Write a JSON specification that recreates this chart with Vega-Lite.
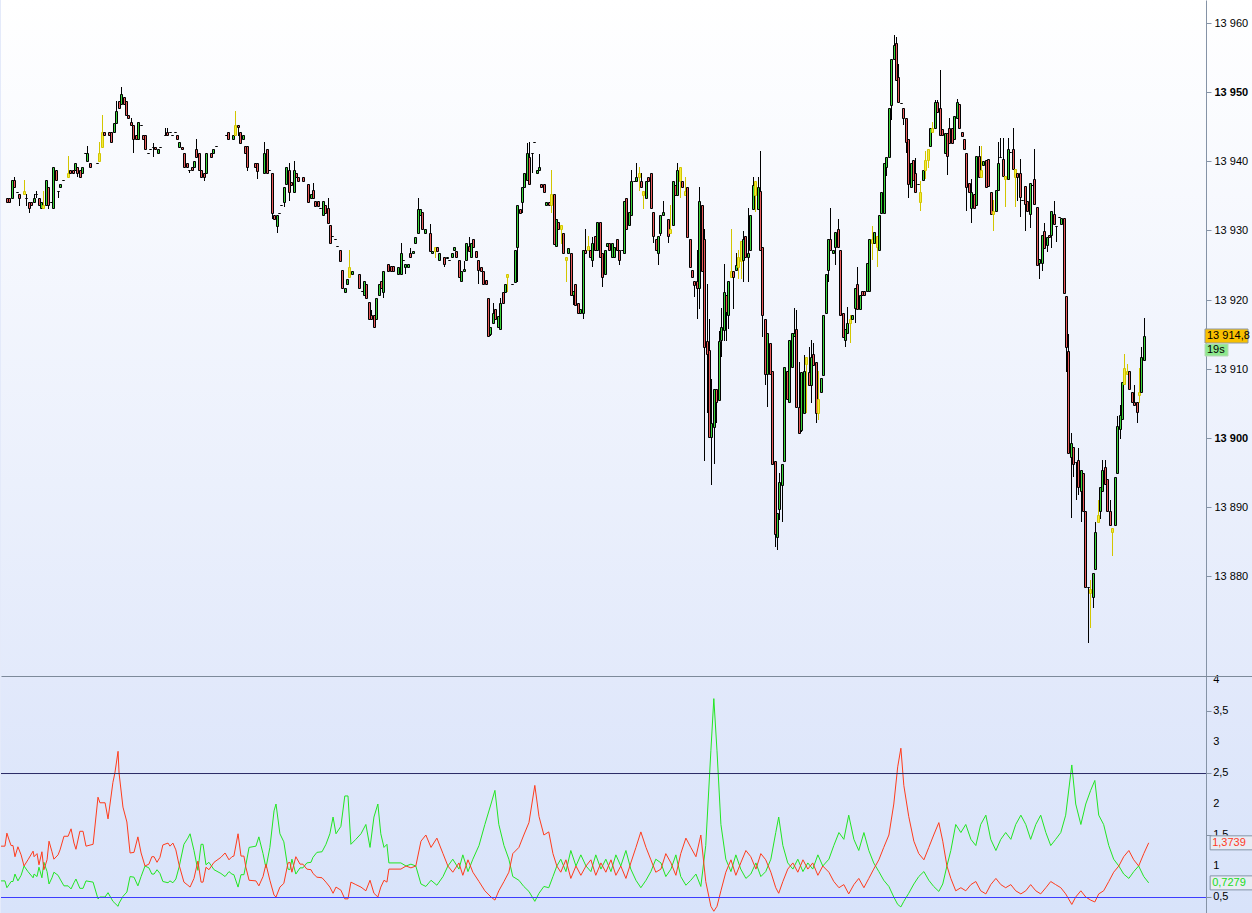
{
"$schema":"https://vega.github.io/schema/vega-lite/v6.json",
"padding":0,
"spacing":0,
"bounds":"flush",
"background":"#e4eafa",
"config":{"view":{"stroke":null},"axis":{"labelFont":"Liberation Sans","labelFontSize":11,"labelColor":"#000000","grid":false,"title":null,"labelOverlap":false}},
"resolve":{"scale":{"x":"independent","y":"independent"}},
"datasets":{
"k":[
{"i":0,"o":13934.7,"c":13934.1},{"i":1,"o":13934.7,"c":13934.1},{"i":2,"o":13934.7,"c":13937.3},{"i":3,"o":13937.3,"c":13936.3,"h":13937.7,"l":13936.3},{"i":4,"o":13935.6,"c":13935.6},{"i":5,"o":13935.3,"c":13934.7,"h":13935.3,"l":13933.5},{"i":7,"o":13935.3,"c":13935.7,"h":13937.3,"l":13935.3,"s":1},{"i":8,"o":13934.7,"c":13934.7,"h":13935.3,"l":13933.5},{"i":9,"o":13934.1,"c":13933.2,"h":13934.1,"l":13932.5},{"i":10,"o":13934.1,"c":13933.7},{"i":11,"o":13934.1,"c":13934.7,"h":13935.3,"l":13934.1},{"i":12,"o":13935.3,"c":13935.3,"h":13935.7,"l":13934.7},{"i":13,"o":13934.7,"c":13933.7},{"i":14,"o":13933.2,"c":13934.1},{"i":15,"o":13933.7,"c":13933.2,"h":13935.7,"l":13933.2,"s":1},{"i":16,"o":13933.7,"c":13937.3},{"i":17,"o":13936.3,"c":13933.7,"h":13936.3,"l":13933.1},{"i":18,"o":13934.1,"c":13934.1},{"i":19,"o":13933.2,"c":13939.2},{"i":20,"o":13938.7,"c":13937.3},{"i":21,"o":13935.7,"c":13935.7,"h":13935.7,"l":13934.7},{"i":22,"o":13936.3,"c":13936.7},{"i":23,"o":13937.3,"c":13937.3},{"i":25,"o":13937.7,"c":13938.3,"h":13940.8,"l":13937.7,"s":1},{"i":26,"o":13938.7,"c":13938.3},{"i":27,"o":13938.7,"c":13938.3},{"i":28,"o":13938.7,"c":13939.7},{"i":29,"o":13939.2,"c":13938.3,"h":13939.2,"l":13937.7},{"i":30,"o":13938.7,"c":13937.7},{"i":31,"o":13938.3,"c":13939.2},{"i":32,"o":13941.2,"c":13941.2},{"i":33,"o":13940.0,"c":13941.2,"h":13942.2,"l":13940.0},{"i":34,"o":13939.7,"c":13939.2},{"i":37,"o":13939.7,"c":13939.7},{"i":38,"o":13940.0,"c":13941.2,"h":13942.8,"l":13940.0,"s":1},{"i":39,"o":13942.1,"c":13944.2,"h":13946.7,"l":13942.1,"s":1},{"i":40,"o":13944.2,"c":13943.8},{"i":42,"o":13944.2,"c":13943.8},{"i":43,"o":13944.2,"c":13942.8},{"i":44,"o":13944.2,"c":13945.5},{"i":45,"o":13945.5,"c":13947.3,"h":13948.7,"l":13945.5},{"i":46,"o":13948.7,"c":13947.7},{"i":47,"o":13948.3,"c":13949.7,"h":13950.7,"l":13948.3},{"i":48,"o":13949.3,"c":13948.3},{"i":49,"o":13948.7,"c":13946.7},{"i":50,"o":13946.7,"c":13946.2},{"i":51,"o":13945.7,"c":13945.2,"h":13946.2,"l":13945.2},{"i":52,"o":13945.2,"c":13943.2,"h":13945.2,"l":13941.2},{"i":53,"o":13943.8,"c":13943.2},{"i":54,"o":13943.2,"c":13945.7},{"i":55,"o":13945.2,"c":13945.2},{"i":56,"o":13943.8,"c":13943.2},{"i":57,"o":13943.8,"c":13941.8},{"i":58,"o":13941.2,"c":13941.2},{"i":59,"o":13941.8,"c":13941.8},{"i":60,"o":13942.1,"c":13942.1,"h":13942.6,"l":13940.6},{"i":61,"o":13942.1,"c":13941.8},{"i":62,"o":13941.2,"c":13941.8},{"i":63,"o":13942.1,"c":13942.1},{"i":65,"o":13943.8,"c":13943.8,"h":13944.8,"l":13943.8},{"i":66,"o":13944.2,"c":13943.8,"h":13944.8,"l":13943.8},{"i":67,"o":13944.2,"c":13944.2},{"i":68,"o":13943.8,"c":13943.8},{"i":69,"o":13944.2,"c":13944.2},{"i":70,"o":13943.8,"c":13943.2},{"i":71,"o":13942.1,"c":13942.8},{"i":72,"o":13942.1,"c":13941.8},{"i":73,"o":13941.2,"c":13939.2},{"i":74,"o":13939.7,"c":13939.2},{"i":75,"o":13938.7,"c":13938.7,"h":13938.7,"l":13938.3},{"i":76,"o":13939.2,"c":13938.7},{"i":77,"o":13939.2,"c":13940.0},{"i":78,"o":13941.8,"c":13940.6,"h":13943.2,"l":13940.6},{"i":79,"o":13941.2,"c":13938.7},{"i":80,"o":13938.7,"c":13937.7},
{"i":81,"o":13938.3,"c":13937.7,"h":13938.3,"l":13937.1},{"i":82,"o":13938.3,"c":13941.2},{"i":84,"o":13941.2,"c":13940.6},{"i":85,"o":13941.2,"c":13941.8},{"i":86,"o":13942.2,"c":13942.2},{"i":90,"o":13943.8,"c":13943.8},{"i":91,"o":13944.2,"c":13943.2},{"i":93,"o":13943.2,"c":13943.8},{"i":94,"o":13943.8,"c":13945.2,"h":13947.3,"l":13943.8,"s":1},{"i":95,"o":13945.2,"c":13944.9,"h":13945.2,"l":13943.6},{"i":96,"o":13944.2,"c":13942.6},{"i":97,"o":13943.2,"c":13943.8},{"i":98,"o":13942.2,"c":13941.2},{"i":99,"o":13942.2,"c":13939.2,"h":13942.2,"l":13938.6},{"i":102,"o":13939.7,"c":13939.2},{"i":103,"o":13939.7,"c":13938.6,"h":13939.7,"l":13937.5},{"i":106,"o":13938.3,"c":13941.2,"h":13942.8,"l":13938.3},{"i":107,"o":13941.8,"c":13938.3},{"i":108,"o":13938.7,"c":13938.7},{"i":109,"o":13938.3,"c":13932.5,"h":13938.3,"l":13931.7},{"i":110,"o":13932.2,"c":13931.7},{"i":111,"o":13930.6,"c":13932.2,"h":13932.2,"l":13929.6},{"i":112,"o":13932.5,"c":13932.5},{"i":113,"o":13933.7,"c":13933.7},{"i":114,"o":13934.1,"c":13936.3,"h":13936.3,"l":13933.4},{"i":115,"o":13936.7,"c":13939.2},{"i":116,"o":13938.7,"c":13935.6,"h":13939.7,"l":13934.2},{"i":117,"o":13937.0,"c":13936.6},{"i":118,"o":13935.6,"c":13938.7,"h":13940.0,"l":13935.6},{"i":119,"o":13938.3,"c":13937.7},{"i":120,"o":13937.7,"c":13937.1},{"i":122,"o":13937.7,"c":13937.1},{"i":124,"o":13936.7,"c":13934.1},{"i":125,"o":13934.7,"c":13935.3},{"i":126,"o":13935.8,"c":13934.7,"h":13936.9,"l":13934.7},{"i":127,"o":13934.3,"c":13933.5},{"i":128,"o":13934.3,"c":13933.5},{"i":129,"o":13933.2,"c":13933.2},{"i":130,"o":13932.2,"c":13934.3},{"i":131,"o":13933.7,"c":13932.5},{"i":132,"o":13933.2,"c":13931.1,"h":13934.7,"l":13931.1},{"i":133,"o":13930.8,"c":13928.2},{"i":134,"o":13929.2,"c":13929.2},{"i":135,"o":13928.8,"c":13928.8},{"i":136,"o":13927.8,"c":13927.8},{"i":137,"o":13927.2,"c":13925.6},{"i":138,"o":13924.3,"c":13921.7},{"i":139,"o":13921.1,"c":13921.7},{"i":140,"o":13922.3,"c":13923.0},{"i":141,"o":13923.3,"c":13924.7,"h":13927.2,"l":13923.3,"s":1},{"i":142,"o":13923.7,"c":13924.1},{"i":145,"o":13923.7,"c":13921.7},{"i":146,"o":13921.2,"c":13921.2},{"i":147,"o":13920.7,"c":13922.7},{"i":148,"o":13922.3,"c":13920.2},{"i":149,"o":13919.7,"c":13917.2},{"i":150,"o":13917.8,"c":13917.2,"h":13918.5,"l":13917.2},{"i":151,"o":13917.8,"c":13916.0},{"i":152,"o":13917.2,"c":13920.2},{"i":153,"o":13920.7,"c":13922.3},{"i":154,"o":13922.7,"c":13921.7},{"i":155,"o":13921.1,"c":13924.1,"h":13924.1,"l":13920.2},{"i":157,"o":13925.2,"c":13924.1},{"i":158,"o":13924.8,"c":13924.1},{"i":159,"o":13924.8,"c":13924.1},
{"i":161,"o":13923.7,"c":13924.7},{"i":162,"o":13923.7,"c":13926.7,"h":13928.2,"l":13923.7},{"i":163,"o":13925.7,"c":13925.7},{"i":164,"o":13924.7,"c":13925.2,"h":13925.2,"l":13923.7},{"i":165,"o":13924.7,"c":13925.2},{"i":166,"o":13926.7,"c":13926.2,"h":13927.5,"l":13926.2},{"i":167,"o":13926.7,"c":13927.0},{"i":168,"o":13928.2,"c":13929.0},{"i":169,"o":13929.6,"c":13933.1,"h":13934.7,"l":13929.6},{"i":170,"o":13932.2,"c":13933.1},{"i":171,"o":13932.7,"c":13930.2},{"i":172,"o":13929.6,"c":13930.2},{"i":174,"o":13929.6,"c":13927.0,"h":13930.9,"l":13927.0},{"i":175,"o":13926.7,"c":13927.0},{"i":176,"o":13927.0,"c":13927.6,"h":13927.6,"l":13926.0,"s":1},{"i":177,"o":13927.6,"c":13927.0},{"i":178,"o":13925.7,"c":13926.7},{"i":180,"o":13926.2,"c":13925.2,"h":13926.2,"l":13924.7},{"i":181,"o":13926.0,"c":13926.2},{"i":182,"o":13925.7,"c":13925.7},{"i":183,"o":13926.2,"c":13926.7},{"i":184,"o":13927.2,"c":13927.6},{"i":185,"o":13927.0,"c":13926.2},{"i":186,"o":13925.7,"c":13923.3},{"i":187,"o":13922.7,"c":13924.1},{"i":188,"o":13924.1,"c":13924.4,"h":13925.6,"l":13924.1},{"i":189,"o":13925.7,"c":13928.2},{"i":190,"o":13927.8,"c":13927.0,"h":13929.0,"l":13927.0},{"i":191,"o":13926.2,"c":13928.2},{"i":192,"o":13928.8,"c":13927.6},{"i":193,"o":13927.0,"c":13926.2},{"i":194,"o":13925.7,"c":13924.3,"h":13925.7,"l":13922.3},{"i":195,"o":13924.7,"c":13924.1},{"i":196,"o":13924.1,"c":13922.3},{"i":197,"o":13922.8,"c":13922.3},{"i":198,"o":13920.2,"c":13914.7},{"i":199,"o":13915.0,"c":13916.0,"h":13916.0,"l":13914.7},{"i":200,"o":13916.6,"c":13918.1,"h":13919.5,"l":13916.6},{"i":201,"o":13918.6,"c":13917.2},{"i":202,"o":13916.0,"c":13917.6},{"i":203,"o":13915.8,"c":13919.5,"h":13920.2,"l":13915.8},{"i":204,"o":13921.1,"c":13919.5},{"i":205,"o":13921.1,"c":13922.3},{"i":206,"o":13923.3,"c":13923.7,"h":13923.7,"l":13921.1,"s":1},{"i":208,"o":13922.3,"c":13922.3},{"i":209,"o":13922.6,"c":13927.2},{"i":210,"o":13927.6,"c":13933.7,"h":13933.7,"l":13922.6},{"i":211,"o":13933.1,"c":13932.5},{"i":212,"o":13934.1,"c":13936.3,"h":13936.3,"l":13932.5},{"i":213,"o":13936.3,"c":13938.3},{"i":214,"o":13937.3,"c":13941.2,"h":13942.6,"l":13937.3},{"i":215,"o":13940.6,"c":13936.7,"h":13942.8,"l":13936.7},{"i":216,"o":13941.2,"c":13941.2,"h":13941.2,"l":13938.3},{"i":217,"o":13942.8,"c":13942.8},{"i":218,"o":13938.3,"c":13938.7},{"i":219,"o":13938.7,"c":13939.2,"h":13941.0,"l":13938.7},{"i":220,"o":13936.7,"c":13936.3},{"i":221,"o":13936.7,"c":13935.6},{"i":222,"o":13933.7,"c":13934.1},{"i":223,"o":13934.1,"c":13933.7},{"i":224,"o":13935.3,"c":13933.7,"h":13938.7,"l":13932.5,"s":1},{"i":225,"o":13935.3,"c":13928.0},{"i":226,"o":13927.8,"c":13931.7},{"i":227,"o":13931.2,"c":13930.2},{"i":228,"o":13930.8,"c":13930.2,"h":13930.8,"l":13928.0,"s":1},{"i":229,"o":13929.6,"c":13926.7},{"i":230,"o":13926.2,"c":13925.7,"h":13926.2,"l":13922.6,"s":1},{"i":231,"o":13926.7,"c":13927.5},{"i":232,"o":13926.7,"c":13920.7},{"i":233,"o":13920.7,"c":13921.2,"h":13921.2,"l":13919.2},{"i":234,"o":13922.3,"c":13919.2},{"i":235,"o":13919.5,"c":13918.1},{"i":236,"o":13918.1,"c":13918.6},{"i":237,"o":13918.1,"c":13927.2,"h":13927.2,"l":13917.2},{"i":238,"o":13927.2,"c":13926.7,"h":13930.2,"l":13926.7},{"i":239,"o":13927.2,"c":13927.8,"h":13929.2,"l":13927.2,"s":1},{"i":240,"o":13927.2,"c":13926.2},{"i":241,"o":13925.7,"c":13928.2,"h":13929.0,"l":13924.7},{"i":242,"o":13929.2,"c":13927.2},{"i":243,"o":13927.2,"c":13931.2},{"i":244,"o":13931.2,"c":13926.2},{"i":245,"o":13926.7,"c":13923.3,"h":13926.7,"l":13921.8},{"i":246,"o":13923.7,"c":13927.2},{"i":247,"o":13927.8,"c":13928.2},{"i":248,"o":13928.2,"c":13927.2},{"i":249,"o":13926.2,"c":13928.2},{"i":250,"o":13926.2,"c":13927.6},{"i":251,"o":13928.8,"c":13927.2},{"i":252,"o":13927.2,"c":13925.7,"h":13927.2,"l":13925.0},{"i":253,"o":13927.2,"c":13927.2},{"i":254,"o":13926.7,"c":13934.3},{"i":255,"o":13934.7,"c":13930.2},{"i":256,"o":13930.8,"c":13932.7},{"i":257,"o":13932.2,"c":13937.1,"h":13938.7,"l":13932.2},{"i":258,"o":13937.1,"c":13937.1},{"i":259,"o":13937.1,"c":13937.7,"h":13939.7,"l":13937.1},{"i":260,"o":13937.7,"c":13938.3,"h":13939.2,"l":13935.7,"s":1},{"i":261,"o":13937.1,"c":13936.3,"h":13938.3,"l":13936.3},{"i":262,"o":13935.7,"c":13935.1,"h":13935.7,"l":13933.1,"s":1},{"i":263,"o":13934.7,"c":13937.1},{"i":264,"o":13937.7,"c":13937.1},{"i":265,"o":13938.3,"c":13933.2},{"i":266,"o":13932.7,"c":13929.2,"h":13932.7,"l":13928.2},{"i":267,"o":13928.8,"c":13927.2},{"i":268,"o":13926.7,"c":13929.2,"h":13929.2,"l":13925.0},{"i":269,"o":13929.6,"c":13932.2,"h":13932.2,"l":13929.2},{"i":270,"o":13932.2,"c":13932.7,"h":13934.3,"l":13932.2},{"i":272,"o":13931.7,"c":13929.2,"h":13931.7,"l":13928.2},{"i":273,"o":13929.6,"c":13930.2,"h":13933.7,"l":13929.6,"s":1},{"i":274,"o":13930.8,"c":13937.1},{"i":275,"o":13936.6,"c":13935.1},{"i":276,"o":13935.1,"c":13938.7,"h":13939.7,"l":13935.1},{"i":277,"o":13937.1,"c":13939.2,"h":13939.2,"l":13934.7,"s":1},{"i":278,"o":13937.1,"c":13936.3},{"i":279,"o":13935.7,"c":13935.1,"h":13937.7,"l":13935.1,"s":1},{"i":280,"o":13936.3,"c":13929.0},{"i":281,"o":13928.8,"c":13924.7},{"i":282,"o":13924.3,"c":13923.3},{"i":283,"o":13922.7,"c":13922.1,"h":13922.7,"l":13920.4},{"i":284,"o":13922.7,"c":13921.7,"h":13927.2,"l":13917.2},{"i":285,"o":13921.7,"c":13934.3,"h":13936.3,"l":13918.6},{"i":286,"o":13933.7,"c":13924.1},{"i":287,"o":13928.8,"c":13913.2,"h":13930.2,"l":13896.7},{"i":288,"o":13914.0,"c":13912.1,"h":13922.3,"l":13903.6},{"i":289,"o":13912.7,"c":13900.2,"h":13917.2,"l":13900.2},{"i":290,"o":13900.2,"c":13902.2,"h":13908.5,"l":13893.2},{"i":291,"o":13901.6,"c":13907.1,"h":13907.1,"l":13896.3},{"i":292,"o":13907.1,"c":13905.2,"h":13907.1,"l":13902.2},{"i":293,"o":13905.5,"c":13914.0,"h":13915.5,"l":13905.5},{"i":294,"o":13914.2,"c":13916.0,"h":13918.8,"l":13911.7},{"i":295,"o":13915.6,"c":13921.1,"h":13925.2,"l":13914.0},{"i":296,"o":13920.7,"c":13918.2,"h":13920.7,"l":13914.0},{"i":297,"o":13917.8,"c":13922.7,"h":13922.7,"l":13915.8},{"i":298,"o":13923.3,"c":13924.1,"h":13930.2,"l":13923.3,"s":1},{"i":299,"o":13924.1,"c":13923.3,"h":13924.1,"l":13918.6},{"i":300,"o":13924.3,"c":13925.0,"h":13926.8,"l":13924.3},{"i":301,"o":13924.7,"c":13926.2,"h":13927.2,"l":13923.0,"s":1},{"i":302,"o":13925.6,"c":13928.5,"h":13928.5,"l":13923.0,"s":1},{"i":303,"o":13925.7,"c":13928.8,"h":13929.9,"l":13922.6},{"i":304,"o":13929.2,"c":13926.2},{"i":305,"o":13926.2,"c":13926.7,"h":13933.2,"l":13922.6},{"i":306,"o":13927.2,"c":13932.2},{"i":307,"o":13933.1,"c":13936.6,"h":13937.7,"l":13933.1},{"i":308,"o":13935.1,"c":13937.1,"h":13937.1,"l":13932.7,"s":1},{"i":309,"o":13933.1,"c":13936.3,"h":13937.7,"l":13933.1},{"i":310,"o":13935.7,"c":13927.2,"h":13941.5,"l":13927.2},{"i":311,"o":13927.6,"c":13917.8,"h":13927.6,"l":13914.6},{"i":312,"o":13917.2,"c":13909.3,"h":13917.2,"l":13907.7},{"i":313,"o":13909.3,"c":13915.2,"h":13915.2,"l":13904.5},{"i":314,"o":13913.7,"c":13909.3},{"i":315,"o":13909.7,"c":13896.2},{"i":316,"o":13896.7,"c":13886.1,"h":13896.7,"l":13884.3},{"i":317,"o":13885.7,"c":13889.2,"h":13889.2,"l":13883.8},{"i":318,"o":13889.7,"c":13893.6,"h":13895.0,"l":13888.2},{"i":319,"o":13893.2,"c":13896.2,"h":13896.2,"l":13887.9},{"i":320,"o":13896.7,"c":13910.3},{"i":321,"o":13909.7,"c":13905.6},{"i":322,"o":13905.2,"c":13914.2},{"i":323,"o":13910.3,"c":13915.2},{"i":324,"o":13914.7,"c":13915.2,"h":13918.8,"l":13914.7},{"i":325,"o":13915.8,"c":13904.5,"h":13918.5,"l":13904.5},{"i":326,"o":13904.5,"c":13900.7,"h":13911.0,"l":13900.7},{"i":327,"o":13901.2,"c":13909.5,"h":13909.5,"l":13900.9},{"i":328,"o":13903.6,"c":13909.7,"h":13912.0,"l":13903.6},{"i":329,"o":13910.7,"c":13911.7,"h":13911.7,"l":13903.6,"s":1},{"i":330,"o":13909.5,"c":13907.7,"h":13913.2,"l":13907.7},{"i":331,"o":13907.7,"c":13911.7,"h":13914.2,"l":13905.0},{"i":332,"o":13912.1,"c":13910.6,"h":13913.7,"l":13910.6},{"i":333,"o":13911.0,"c":13903.6,"h":13911.0,"l":13902.2},{"i":334,"o":13905.6,"c":13903.6,"h":13909.7,"l":13902.6,"s":1},{"i":335,"o":13906.7,"c":13908.7},{"i":336,"o":13909.1,"c":13917.8},{"i":337,"o":13918.1,"c":13923.7},{"i":338,"o":13924.3,"c":13928.8,"h":13928.8,"l":13922.6},{"i":339,"o":13928.8,"c":13927.2,"h":13933.2,"l":13927.2},{"i":340,"o":13926.7,"c":13927.2},{"i":341,"o":13927.6,"c":13929.8,"h":13929.8,"l":13925.0},{"i":342,"o":13930.2,"c":13927.6,"h":13931.7,"l":13927.6},{"i":343,"o":13927.2,"c":13917.8},{"i":344,"o":13918.1,"c":13914.6},{"i":345,"o":13914.2,"c":13915.8,"h":13915.8,"l":13913.2},{"i":346,"o":13915.2,"c":13916.6,"h":13919.0,"l":13915.2},{"i":347,"o":13916.6,"c":13917.2,"h":13917.8,"l":13913.7,"s":1},{"i":348,"o":13917.2,"c":13917.8},{"i":349,"o":13918.8,"c":13921.7,"h":13921.7,"l":13916.6},{"i":350,"o":13922.3,"c":13918.6,"h":13924.7,"l":13918.6},{"i":351,"o":13918.6,"c":13920.7},{"i":352,"o":13921.2,"c":13920.7},{"i":353,"o":13921.2,"c":13920.7},{"i":354,"o":13921.2,"c":13925.3},{"i":355,"o":13921.2,"c":13928.8},{"i":356,"o":13928.2,"c":13928.8,"h":13930.6,"l":13925.7,"s":1},{"i":357,"o":13928.2,"c":13929.8},{"i":358,"o":13929.2,"c":13927.6,"h":13929.2,"l":13924.7,"s":1},{"i":359,"o":13927.2,"c":13932.2},{"i":360,"o":13932.5,"c":13935.6},{"i":361,"o":13932.5,"c":13939.7},{"i":362,"o":13939.2,"c":13940.6,"h":13940.6,"l":13937.9},{"i":363,"o":13940.6,"c":13947.7},{"i":364,"o":13948.1,"c":13954.8,"h":13954.8,"l":13946.0},{"i":365,"o":13954.8,"c":13956.8,"h":13958.2,"l":13954.8},{"i":366,"o":13957.1,"c":13951.7,"h":13958.0,"l":13951.7},{"i":367,"o":13952.2,"c":13948.6,"h":13954.0,"l":13948.6},{"i":368,"o":13948.4,"c":13948.4},{"i":369,"o":13947.7,"c":13946.2,"h":13947.7,"l":13945.3},{"i":370,"o":13946.2,"c":13942.8,"h":13946.2,"l":13941.2},{"i":371,"o":13943.2,"c":13936.7,"h":13943.2,"l":13934.7},{"i":372,"o":13936.3,"c":13939.7},{"i":373,"o":13940.2,"c":13937.3},{"i":374,"o":13938.3,"c":13935.6,"h":13940.4,"l":13935.6},{"i":375,"o":13936.7,"c":13936.7},{"i":376,"o":13935.6,"c":13934.1,"h":13937.1,"l":13932.8,"s":1},{"i":377,"o":13937.3,"c":13938.7},{"i":378,"o":13938.7,"c":13940.2,"h":13941.5,"l":13937.5,"s":1},{"i":379,"o":13940.2,"c":13941.8,"h":13941.8,"l":13939.0,"s":1},{"i":380,"o":13942.2,"c":13944.8},{"i":381,"o":13944.2,"c":13944.8,"h":13945.7,"l":13944.2,"s":1},{"i":382,"o":13944.8,"c":13948.6,"h":13948.8,"l":13944.8},{"i":383,"o":13948.6,"c":13947.1,"h":13948.8,"l":13947.1},{"i":384,"o":13947.7,"c":13943.8,"h":13953.2,"l":13943.8},{"i":385,"o":13944.7,"c":13943.8},{"i":386,"o":13941.2,"c":13944.1},{"i":387,"o":13944.1,"c":13940.8,"h":13944.1,"l":13938.0},{"i":388,"o":13944.8,"c":13942.6,"h":13946.3,"l":13942.6},{"i":389,"o":13944.8,"c":13942.6},{"i":390,"o":13943.2,"c":13946.5},{"i":391,"o":13946.2,"c":13948.6,"h":13949.0,"l":13946.2},{"i":392,"o":13948.3,"c":13944.8},{"i":393,"o":13944.2,"c":13943.6},{"i":394,"o":13943.2,"c":13941.8},{"i":395,"o":13941.2,"c":13936.3,"h":13941.2,"l":13932.8},{"i":396,"o":13936.9,"c":13935.6},{"i":397,"o":13933.2,"c":13935.6,"h":13937.5,"l":13931.1},{"i":398,"o":13935.3,"c":13933.2},{"i":399,"o":13933.7,"c":13940.8},{"i":400,"o":13940.8,"c":13937.7,"h":13942.2,"l":13937.7},{"i":401,"o":13938.7,"c":13937.7,"h":13942.2,"l":13937.7,"s":1},{"i":402,"o":13939.4,"c":13940.0},{"i":403,"o":13940.2,"c":13936.3},{"i":404,"o":13940.3,"c":13936.4},{"i":405,"o":13935.6,"c":13932.4},{"i":406,"o":13932.8,"c":13932.4,"h":13934.4,"l":13929.9,"s":1},{"i":407,"o":13932.8,"c":13935.8},{"i":408,"o":13935.8,"c":13939.7,"h":13942.8,"l":13935.8},{"i":409,"o":13940.6,"c":13940.6,"h":13943.4,"l":13940.6},{"i":410,"o":13940.3,"c":13937.9,"h":13943.4,"l":13937.9},{"i":411,"o":13937.9,"c":13937.5,"h":13937.9,"l":13933.4,"s":1},{"i":412,"o":13937.4,"c":13941.8,"h":13943.4,"l":13937.4},{"i":413,"o":13941.3,"c":13941.3},{"i":414,"o":13941.8,"c":13938.9,"h":13944.8,"l":13938.9},{"i":415,"o":13938.9,"c":13937.7,"h":13938.9,"l":13933.4,"s":1},{"i":416,"o":13938.3,"c":13937.7,"h":13938.3,"l":13934.2},{"i":417,"o":13938.3,"c":13934.8,"h":13940.3,"l":13931.9},{"i":418,"o":13934.4,"c":13934.4},{"i":419,"o":13936.4,"c":13933.8,"h":13936.4,"l":13929.9},{"i":420,"o":13934.3,"c":13932.8},{"i":421,"o":13932.4,"c":13936.9,"h":13936.9,"l":13930.4},{"i":422,"o":13936.6,"c":13936.6},{"i":423,"o":13937.4,"c":13933.8,"h":13941.8,"l":13933.8},{"i":424,"o":13933.4,"c":13925.0},{"i":425,"o":13925.3,"c":13925.9,"h":13925.9,"l":13923.0},{"i":426,"o":13925.3,"c":13929.3,"h":13929.3,"l":13924.2},{"i":427,"o":13929.9,"c":13927.5,"h":13931.0,"l":13927.5},{"i":428,"o":13927.9,"c":13929.0,"h":13929.0,"l":13926.9},{"i":429,"o":13929.3,"c":13929.0},{"i":430,"o":13929.3,"c":13932.8,"h":13932.8,"l":13927.4},{"i":431,"o":13932.4,"c":13930.9,"h":13934.3,"l":13930.9},{"i":432,"o":13930.6,"c":13930.6,"h":13930.6,"l":13928.3},{"i":433,"o":13931.9,"c":13931.9},{"i":434,"o":13930.9,"c":13931.8},{"i":435,"o":13931.8,"c":13920.9},{"i":436,"o":13920.5,"c":13913.2,"h":13920.5,"l":13909.5},{"i":437,"o":13912.6,"c":13897.8,"h":13915.0,"l":13897.8},{"i":438,"o":13897.2,"c":13899.3,"h":13900.7,"l":13888.4},{"i":439,"o":13898.7,"c":13896.3,"h":13898.7,"l":13894.3},{"i":440,"o":13896.6,"c":13896.6,"h":13896.6,"l":13891.0},{"i":441,"o":13896.8,"c":13892.9,"h":13898.5,"l":13891.7},{"i":442,"o":13892.3,"c":13895.4,"h":13895.4,"l":13887.9},{"i":443,"o":13894.9,"c":13889.5},{"i":444,"o":13889.5,"c":13878.5},{"i":445,"o":13878.5,"c":13878.5,"h":13878.5,"l":13870.3},{"i":446,"o":13878.2,"c":13877.6,"h":13879.5,"l":13872.6,"s":1},{"i":447,"o":13877.0,"c":13880.5,"h":13880.5,"l":13875.5},{"i":448,"o":13881.1,"c":13886.4,"h":13887.9,"l":13881.1},{"i":449,"o":13888.9,"c":13887.9,"h":13891.1,"l":13887.9,"s":1},{"i":450,"o":13889.5,"c":13892.9,"h":13892.9,"l":13888.3},{"i":451,"o":13892.3,"c":13895.4,"h":13896.8,"l":13892.3},{"i":452,"o":13895.8,"c":13893.4,"h":13896.8,"l":13893.4},{"i":453,"o":13894.0,"c":13889.5},{"i":454,"o":13889.5,"c":13887.4,"h":13891.1,"l":13887.4},{"i":455,"o":13887.0,"c":13886.4,"h":13887.0,"l":13883.0,"s":1},{"i":456,"o":13887.4,"c":13894.4},{"i":457,"o":13894.9,"c":13901.7,"h":13903.2,"l":13894.9},{"i":458,"o":13901.3,"c":13903.3,"h":13904.8,"l":13899.8},{"i":459,"o":13902.8,"c":13908.1},{"i":460,"o":13907.8,"c":13910.1,"h":13912.1,"l":13907.8,"s":1},{"i":461,"o":13909.7,"c":13909.3,"h":13910.7,"l":13909.3,"s":1},{"i":462,"o":13909.7,"c":13907.1},{"i":463,"o":13906.7,"c":13905.2},{"i":464,"o":13905.2,"c":13904.8,"h":13907.6,"l":13904.8},{"i":465,"o":13905.2,"c":13903.8,"h":13905.2,"l":13902.1},{"i":466,"o":13906.2,"c":13906.7,"h":13910.1,"l":13905.1,"s":1},{"i":467,"o":13906.7,"c":13911.7,"h":13913.2,"l":13906.7},{"i":468,"o":13911.2,"c":13914.8,"h":13917.4,"l":13911.2}
],
"ind":[
{"i":-0.4,"r":1.32,"g":0.76},{"i":1.2,"r":1.32,"g":0.76},{"i":2.0,"r":1.53,"g":0.65},{"i":2.9,"r":1.42,"g":0.7},{"i":3.7,"r":1.33,"g":0.75},{"i":4.5,"r":1.33,"g":0.75},{"i":5.3,"r":1.15,"g":0.87},{"i":6.5,"r":1.31,"g":0.76},{"i":7.8,"r":1.18,"g":0.85},{"i":9.0,"r":1.0,"g":1.0},{"i":10.6,"r":1.1,"g":0.91},{"i":12.7,"r":1.24,"g":0.81},{"i":13.1,"r":1.15,"g":0.87},{"i":14.3,"r":1.2,"g":0.83},{"i":15.1,"r":1.02,"g":0.98},{"i":16.3,"r":1.23,"g":0.81},{"i":17.1,"r":0.94,"g":1.06},{"i":18.4,"r":1.1,"g":0.91},{"i":19.2,"r":1.4,"g":0.71},{"i":20.4,"r":1.23,"g":0.81},{"i":21.2,"r":1.11,"g":0.9},{"i":22.9,"r":1.18,"g":0.85},{"i":23.7,"r":1.26,"g":0.79},{"i":25.3,"r":1.48,"g":0.68},{"i":27.0,"r":1.48,"g":0.68},{"i":28.2,"r":1.6,"g":0.63},{"i":29.4,"r":1.37,"g":0.73},{"i":30.2,"r":1.27,"g":0.79},{"i":31.8,"r":1.56,"g":0.64},{"i":33.1,"r":1.56,"g":0.64},{"i":34.3,"r":1.32,"g":0.76},{"i":37.2,"r":1.35,"g":0.74},{"i":39.2,"r":2.11,"g":0.47},{"i":40.0,"r":2.02,"g":0.5},{"i":42.1,"r":2.02,"g":0.5},{"i":43.3,"r":1.76,"g":0.57},{"i":45.3,"r":2.35,"g":0.43},{"i":46.1,"r":2.5,"g":0.4},{"i":47.4,"r":2.85,"g":0.35},{"i":47.8,"r":2.5,"g":0.4},{"i":49.4,"r":1.95,"g":0.51},{"i":51.0,"r":1.71,"g":0.58},{"i":52.3,"r":1.21,"g":0.83},{"i":53.9,"r":1.22,"g":0.82},{"i":55.5,"r":1.47,"g":0.68},{"i":56.8,"r":1.21,"g":0.83},{"i":58.4,"r":1.0,"g":1.0},{"i":60.0,"r":1.03,"g":0.97},{"i":61.2,"r":1.15,"g":0.87},{"i":62.1,"r":1.15,"g":0.87},{"i":63.3,"r":1.06,"g":0.94},{"i":64.5,"r":1.14,"g":0.88},{"i":65.7,"r":1.34,"g":0.75},{"i":67.8,"r":1.37,"g":0.73},{"i":68.6,"r":1.32,"g":0.76},{"i":69.8,"r":1.37,"g":0.73},{"i":71.0,"r":1.26,"g":0.79},{"i":72.3,"r":1.02,"g":0.98},{"i":74.3,"r":0.74,"g":1.35},{"i":75.9,"r":0.69,"g":1.45},{"i":76.8,"r":0.66,"g":1.52},{"i":78.4,"r":0.8,"g":1.25},{"i":80.0,"r":1.08,"g":0.93},{"i":81.3,"r":0.74,"g":1.35},{"i":82.1,"r":0.74,"g":1.35},{"i":83.3,"r":0.98,"g":1.02},{"i":84.5,"r":0.94,"g":1.06},{"i":86.6,"r":1.06,"g":0.94},{"i":89.4,"r":1.14,"g":0.88},{"i":91.1,"r":1.21,"g":0.83},{"i":92.7,"r":1.1,"g":0.91},{"i":93.9,"r":1.15,"g":0.87},{"i":94.7,"r":1.16,"g":0.86},{"i":96.4,"r":1.52,"g":0.66},{"i":97.6,"r":1.16,"g":0.86},{"i":98.8,"r":1.16,"g":0.86},{"i":99.6,"r":0.98,"g":1.02},{"i":100.9,"r":0.77,"g":1.3},{"i":103.7,"r":0.76,"g":1.32},{"i":104.9,"r":0.68,"g":1.47},{"i":106.6,"r":0.83,"g":1.2},{"i":107.8,"r":1.03,"g":0.97},{"i":109.4,"r":0.77,"g":1.3},{"i":111.1,"r":0.53,"g":1.89},{"i":111.9,"r":0.5,"g":2.0},{"i":113.5,"r":0.66,"g":1.52},{"i":115.1,"r":0.72,"g":1.39},{"i":116.8,"r":1.05,"g":0.95},{"i":117.6,"r":1.06,"g":0.94},{"i":118.4,"r":0.9,"g":1.11},{"i":120.0,"r":1.15,"g":0.87},{"i":121.7,"r":1.03,"g":0.97},{"i":122.9,"r":1.03,"g":0.97},{"i":124.5,"r":0.95,"g":1.05},{"i":126.2,"r":0.94,"g":1.06},{"i":127.0,"r":0.88,"g":1.14},{"i":128.6,"r":0.82,"g":1.22},{"i":130.7,"r":0.81,"g":1.23},{"i":132.3,"r":0.74,"g":1.35},{"i":133.9,"r":0.66,"g":1.52},{"i":135.2,"r":0.56,"g":1.79},{"i":136.4,"r":0.66,"g":1.52},{"i":138.4,"r":0.61,"g":1.64},{"i":140.0,"r":0.47,"g":2.13},{"i":141.3,"r":0.47,"g":2.13},{"i":142.5,"r":0.74,"g":1.35},{"i":144.5,"r":0.7,"g":1.43},{"i":146.6,"r":0.66,"g":1.52},{"i":148.6,"r":0.6,"g":1.67},{"i":150.3,"r":0.77,"g":1.3},{"i":151.9,"r":0.56,"g":1.79},{"i":153.5,"r":0.5,"g":2.0},{"i":154.7,"r":0.66,"g":1.52},{"i":156.0,"r":0.77,"g":1.3},{"i":157.2,"r":0.74,"g":1.35},{"i":158.0,"r":0.95,"g":1.05},{"i":162.9,"r":0.95,"g":1.05},{"i":165.0,"r":1.0,"g":1.0},{"i":167.0,"r":0.97,"g":1.03},{"i":169.0,"r":1.0,"g":1.0},{"i":171.1,"r":1.4,"g":0.71},{"i":173.1,"r":1.5,"g":0.67},{"i":175.2,"r":1.3,"g":0.77},{"i":177.6,"r":1.45,"g":0.69},{"i":180.1,"r":1.2,"g":0.83},{"i":182.1,"r":1.0,"g":1.0},{"i":184.1,"r":0.9,"g":1.11},{"i":186.6,"r":1.05,"g":0.95},{"i":188.2,"r":0.85,"g":1.18},{"i":190.3,"r":1.1,"g":0.91},{"i":192.3,"r":0.9,"g":1.11},{"i":194.8,"r":0.75,"g":1.33},{"i":197.2,"r":0.6,"g":1.67},{"i":199.7,"r":0.5,"g":2.0},{"i":201.3,"r":0.45,"g":2.22},{"i":202.9,"r":0.6,"g":1.67},{"i":205.0,"r":0.75,"g":1.33},{"i":207.0,"r":0.9,"g":1.11},{"i":208.6,"r":1.2,"g":0.83},{"i":211.1,"r":1.3,"g":0.77},{"i":213.1,"r":1.5,"g":0.67},{"i":215.2,"r":1.7,"g":0.59},{"i":217.6,"r":2.3,"g":0.43},{"i":219.3,"r":1.8,"g":0.56},{"i":221.3,"r":1.5,"g":0.67},{"i":223.3,"r":1.55,"g":0.65},{"i":225.0,"r":1.2,"g":0.83},{"i":226.6,"r":1.0,"g":1.0},{"i":228.2,"r":0.9,"g":1.11},{"i":230.3,"r":1.1,"g":0.91},{"i":232.3,"r":0.8,"g":1.25},{"i":234.4,"r":1.0,"g":1.0},{"i":236.4,"r":0.85,"g":1.18},{"i":238.5,"r":1.0,"g":1.0},{"i":240.5,"r":1.1,"g":0.91},{"i":242.5,"r":0.85,"g":1.18},{"i":244.6,"r":1.05,"g":0.95},{"i":246.6,"r":0.9,"g":1.11},{"i":248.7,"r":1.1,"g":0.91},{"i":250.7,"r":0.85,"g":1.18},{"i":252.7,"r":1.0,"g":1.0},{"i":254.8,"r":0.8,"g":1.25},{"i":256.8,"r":1.05,"g":0.95},{"i":258.9,"r":1.3,"g":0.77},{"i":260.9,"r":1.55,"g":0.65},{"i":263.0,"r":1.3,"g":0.77},{"i":265.0,"r":1.1,"g":0.91},{"i":267.0,"r":0.9,"g":1.11},{"i":269.1,"r":0.95,"g":1.05},{"i":271.1,"r":1.2,"g":0.83},{"i":273.2,"r":1.05,"g":0.95},{"i":275.2,"r":0.85,"g":1.18},{"i":277.2,"r":1.2,"g":0.83},{"i":279.3,"r":1.45,"g":0.69},{"i":281.3,"r":1.3,"g":0.77},{"i":283.4,"r":1.15,"g":0.87},{"i":285.4,"r":1.5,"g":0.67},{"i":287.4,"r":0.75,"g":1.33},{"i":289.5,"r":0.35,"g":2.86},{"i":290.7,"r":0.27,"g":3.7},{"i":292.0,"r":0.35,"g":2.86},{"i":293.6,"r":0.6,"g":1.67},{"i":295.6,"r":0.9,"g":1.11},{"i":297.7,"r":1.1,"g":0.91},{"i":299.7,"r":0.85,"g":1.18},{"i":301.7,"r":1.05,"g":0.95},{"i":303.8,"r":1.25,"g":0.8},{"i":305.8,"r":1.15,"g":0.87},{"i":307.9,"r":0.95,"g":1.05},{"i":309.9,"r":1.2,"g":0.83},{"i":311.9,"r":1.1,"g":0.91},{"i":314.0,"r":0.9,"g":1.11},{"i":316.0,"r":0.65,"g":1.54},{"i":317.2,"r":0.56,"g":1.79},{"i":318.9,"r":0.75,"g":1.33},{"i":320.9,"r":0.95,"g":1.05},{"i":323.0,"r":1.05,"g":0.95},{"i":325.0,"r":0.9,"g":1.11},{"i":327.1,"r":1.1,"g":0.91},{"i":329.1,"r":0.95,"g":1.05},{"i":331.1,"r":1.05,"g":0.95},{"i":333.2,"r":0.85,"g":1.18},{"i":335.2,"r":1.0,"g":1.0},{"i":337.7,"r":0.9,"g":1.11},{"i":339.7,"r":0.75,"g":1.33},{"i":341.8,"r":0.65,"g":1.54},{"i":343.8,"r":0.7,"g":1.43},{"i":345.8,"r":0.55,"g":1.82},{"i":347.9,"r":0.7,"g":1.43},{"i":349.9,"r":0.8,"g":1.25},{"i":352.0,"r":0.65,"g":1.54},{"i":354.0,"r":0.8,"g":1.25},{"i":356.0,"r":0.95,"g":1.05},{"i":358.1,"r":1.1,"g":0.91},{"i":360.1,"r":1.3,"g":0.77},{"i":362.2,"r":1.5,"g":0.67},{"i":364.2,"r":2.0,"g":0.5},{"i":365.8,"r":2.6,"g":0.38},{"i":367.1,"r":2.9,"g":0.34},{"i":368.3,"r":2.3,"g":0.43},{"i":370.3,"r":1.8,"g":0.56},{"i":372.4,"r":1.4,"g":0.71},{"i":374.4,"r":1.2,"g":0.83},{"i":376.5,"r":1.1,"g":0.91},{"i":378.5,"r":1.3,"g":0.77},{"i":380.5,"r":1.5,"g":0.67},{"i":382.6,"r":1.7,"g":0.59},{"i":384.2,"r":1.4,"g":0.71},{"i":385.9,"r":1.0,"g":1.0},{"i":387.5,"r":0.8,"g":1.25},{"i":389.5,"r":0.6,"g":1.67},{"i":391.6,"r":0.65,"g":1.54},{"i":393.6,"r":0.6,"g":1.67},{"i":395.7,"r":0.7,"g":1.43},{"i":397.7,"r":0.75,"g":1.33},{"i":399.7,"r":0.6,"g":1.67},{"i":401.8,"r":0.55,"g":1.82},{"i":403.8,"r":0.7,"g":1.43},{"i":405.9,"r":0.8,"g":1.25},{"i":407.9,"r":0.7,"g":1.43},{"i":409.9,"r":0.65,"g":1.54},{"i":412.0,"r":0.7,"g":1.43},{"i":414.0,"r":0.6,"g":1.67},{"i":416.1,"r":0.55,"g":1.82},{"i":418.1,"r":0.6,"g":1.67},{"i":420.1,"r":0.7,"g":1.43},{"i":422.2,"r":0.6,"g":1.67},{"i":424.2,"r":0.55,"g":1.82},{"i":426.3,"r":0.65,"g":1.54},{"i":428.3,"r":0.75,"g":1.33},{"i":430.3,"r":0.7,"g":1.43},{"i":432.4,"r":0.65,"g":1.54},{"i":434.4,"r":0.55,"g":1.82},{"i":436.9,"r":0.38,"g":2.63},{"i":438.5,"r":0.5,"g":2.0},{"i":440.6,"r":0.6,"g":1.67},{"i":442.6,"r":0.5,"g":2.0},{"i":444.6,"r":0.45,"g":2.22},{"i":446.3,"r":0.42,"g":2.38},{"i":447.9,"r":0.55,"g":1.82},{"i":449.9,"r":0.6,"g":1.67},{"i":452.0,"r":0.75,"g":1.33},{"i":454.0,"r":0.9,"g":1.11},{"i":456.1,"r":1.0,"g":1.0},{"i":458.1,"r":1.15,"g":0.87},{"i":460.2,"r":1.25,"g":0.8},{"i":462.2,"r":1.1,"g":0.91},{"i":464.2,"r":1.0,"g":1.0},{"i":466.3,"r":1.2,"g":0.83},{"i":468.3,"r":1.3739,"g":0.7279}
],
"ticks":[{"v":0.5,"t":"0,5"},{"v":1,"t":"1"},{"v":1.5,"t":"1,5"},{"v":2,"t":"2"},{"v":2.5,"t":"2,5"},{"v":3,"t":"3"},{"v":3.5,"t":"3,5"},{"v":4,"t":"4"}]
},
"vconcat":[
{
"width":1252,"height":676,
"view":{"fill":{"gradient":"linear","x1":0,"y1":0,"x2":0,"y2":1,"stops":[{"offset":0,"color":"#ffffff"},{"offset":1,"color":"#e3eafb"}]},"stroke":null},
"layer":[
{"data":{"name":"k"},"mark":{"type":"rule","strokeWidth":1,"xOffset":0.5,"clip":true},
"encoding":{
"x":{"field":"i","type":"quantitative","scale":{"domain":[-0.41,510.9],"nice":false,"zero":false,"round":true},"axis":null},
"y":{"field":"l","type":"quantitative","scale":{"domain":[13865.6,13963.3],"nice":false,"zero":false,"round":true},"axis":{"orient":"right","offset":-47,"values":[13880,13890,13900,13910,13920,13930,13940,13950,13960],"labelExpr":"replace(format(datum.value, ',d'), ',', ' ')","labelFontWeight":{"condition":{"test":"datum.value % 50 === 0","value":"bold"},"value":"normal"},"domainColor":"#8593a6","tickColor":"#8593a6","tickSize":5,"labelPadding":3,"title":null,"grid":false}},
"y2":{"field":"h"},
"stroke":{"condition":{"test":"datum.s==1","value":"#d2c600"},"value":"#000000"}}},
{"data":{"name":"k"},"mark":{"type":"bar","width":2,"strokeWidth":1,"xOffset":0.5,"yOffset":0.5,"y2Offset":0.5,"clip":true},
"encoding":{
"x":{"field":"i","type":"quantitative"},
"y":{"field":"o","type":"quantitative"},
"y2":{"field":"c"},
"fill":{"condition":[{"test":"datum.s==1","value":"#f4ea3a"},{"test":"datum.c>datum.o","value":"#3ad43a"}],"value":"#e85a5a"},
"stroke":{"condition":{"test":"datum.s==1","value":"#d2c600"},"value":"#000000"}}},
{"data":{"values":[{"v":13914.8}]},"mark":{"type":"rect","fill":"#f8c000","stroke":"#8f98a4","strokeWidth":1,"yOffset":-7,"y2Offset":7},
"encoding":{"x":{"datum":493.4},"x2":{"datum":510.9},"y":{"field":"v","type":"quantitative"},"y2":{"field":"v"}}},
{"data":{"values":[{"v":13912.65}]},"mark":{"type":"rect","fill":"#8ee88e","stroke":"#b8d8b8","strokeWidth":1,"yOffset":-6,"y2Offset":6},
"encoding":{"x":{"datum":493.4},"x2":{"datum":502.7},"y":{"field":"v","type":"quantitative"},"y2":{"field":"v"}}},
{"data":{"values":[{"v":13914.8,"t":"13 914,8"},{"v":13912.65,"t":"19s"}]},"mark":{"type":"text","align":"left","baseline":"middle","font":"Liberation Sans","fontSize":11,"color":"#000000","dx":2},
"encoding":{"x":{"datum":493.4},"y":{"field":"v","type":"quantitative"},"text":{"field":"t"}}}
]
},
{
"width":1252,"height":237,
"view":{"fill":{"gradient":"linear","x1":0,"y1":0,"x2":0,"y2":1,"stops":[{"offset":0,"color":"#e2e9fb"},{"offset":1,"color":"#d8e3fa"}]},"stroke":null},
"layer":[
{"data":{"name":"ind"},"mark":{"type":"line","color":"#22e622","strokeWidth":1,"clip":true},
"encoding":{"x":{"field":"i","type":"quantitative","scale":{"domain":[-0.41,510.9],"nice":false,"zero":false},"axis":{"orient":"top","labels":false,"ticks":false,"domain":true,"domainColor":"#7d8a9a","domainWidth":1,"title":null,"grid":false,"zindex":1}},
"y":{"field":"g","type":"quantitative","scale":{"domain":[0.242,4.065],"nice":false,"zero":false},"axis":{"orient":"right","offset":-47,"values":[0.5,1,1.5,2,2.5,3,3.5,4],"labels":false,"domainColor":"#8593a6","tickColor":"#8593a6","tickSize":5,"title":null,"grid":false}}}},
{"data":{"name":"ind"},"mark":{"type":"line","color":"#ff3c1c","strokeWidth":1,"clip":true},
"encoding":{"x":{"field":"i","type":"quantitative"},"y":{"field":"r","type":"quantitative"}}},
{"data":{"values":[{"v":2.5}]},"mark":{"type":"rule","strokeWidth":1,"yOffset":0.5,"color":"#2a2a66"},
"encoding":{"x":{"datum":-0.41},"x2":{"datum":491.7},"y":{"field":"v","type":"quantitative"}}},
{"data":{"values":[{"v":0.5}]},"mark":{"type":"rule","strokeWidth":1,"yOffset":0.5,"color":"#3c3cff"},
"encoding":{"x":{"datum":-0.41},"x2":{"datum":491.7},"y":{"field":"v","type":"quantitative"}}},
{"data":{"name":"ticks"},"mark":{"type":"text","align":"left","baseline":"middle","font":"Liberation Sans","fontSize":11,"color":"#000000","dx":3},
"encoding":{"x":{"datum":493.4},"y":{"field":"v","type":"quantitative"},"text":{"field":"t"}}},
{"data":{"values":[{"v":1.3739},{"v":0.7279}]},"mark":{"type":"rect","fill":"#e8ecf4","stroke":"#8494a8","strokeWidth":1,"yOffset":-7,"y2Offset":7},
"encoding":{"x":{"datum":493.4},"x2":{"datum":510.9},"y":{"field":"v","type":"quantitative"},"y2":{"field":"v"}}},
{"data":{"values":[{"v":1.3739,"t":"1,3739","k":"r"},{"v":0.7279,"t":"0,7279","k":"g"}]},"mark":{"type":"text","align":"left","baseline":"middle","font":"Liberation Sans","fontSize":11,"dx":2},
"encoding":{"x":{"datum":493.4},"y":{"field":"v","type":"quantitative"},"text":{"field":"t"},"color":{"condition":{"test":"datum.k=='r'","value":"#ff3b1f"},"value":"#18dd18"}}}
]
}
]
}
